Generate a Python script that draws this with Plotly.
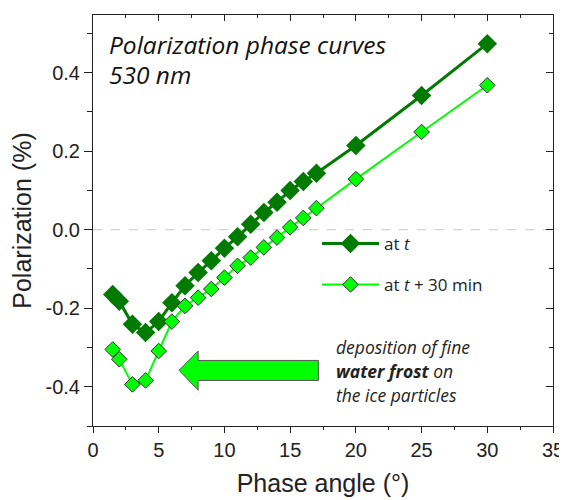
import plotly.graph_objects as go

# ---- data ----
phase_angle = [1.5, 2, 3, 4, 5, 6, 7, 8, 9, 10, 11, 12, 13, 14, 15, 16, 17, 20, 25, 30]
pol_t = [-0.165, -0.182, -0.241, -0.262, -0.234, -0.186, -0.143, -0.109, -0.079, -0.047,
         -0.018, 0.014, 0.044, 0.070, 0.100, 0.123, 0.144, 0.2145, 0.342, 0.474]
pol_t30 = [-0.305, -0.330, -0.394, -0.384, -0.309, -0.234, -0.194, -0.173, -0.151, -0.122,
           -0.092, -0.071, -0.045, -0.020, 0.006, 0.030, 0.055, 0.129, 0.249, 0.368]
series_names = ["at <i>t</i>", "at <i>t</i> + 30 min"]
x_ticks = [0, 5, 10, 15, 20, 25, 30, 35]
y_ticks = [-0.4, -0.2, 0.0, 0.2, 0.4]
y_tick_text = ["-0.4", "-0.2", "0.0", "0.2", "0.4"]
y_minor = [-0.5, -0.3, -0.1, 0.1, 0.3, 0.5]

DARK = "#007A00"
LIGHT = "#00FF00"
AXC = "#222222"

fig = go.Figure()
fig.add_trace(go.Scatter(
    x=phase_angle, y=pol_t, mode="lines+markers", name=series_names[0],
    line=dict(color=DARK, width=3),
    marker=dict(symbol="diamond", size=15, color=DARK, line=dict(width=0)),
    legendgroup="a"))
fig.add_trace(go.Scatter(
    x=phase_angle, y=pol_t30, mode="lines+markers", name=series_names[1],
    line=dict(color=LIGHT, width=2),
    marker=dict(symbol="diamond", size=12, color=LIGHT, line=dict(width=1, color="#333333")),
    legendgroup="b"))

axis_common = dict(showgrid=False, zeroline=False, showline=True, linecolor=AXC, linewidth=1,
                   mirror=True, tickcolor=AXC, automargin=False,
                   tickfont=dict(family="Liberation Sans, Arial", size=20, color=AXC),
                   title_font=dict(family="Liberation Sans, Arial", size=25, color=AXC))

fig.update_layout(
    width=559, height=492,
    margin=dict(l=85, r=14, t=7, b=74),
    plot_bgcolor="white", paper_bgcolor="white",
    xaxis=dict(range=[0, 35], tickvals=x_ticks, ticks="outside", ticklen=6,
               minor=dict(dtick=2.5, ticks="outside", ticklen=3, tickcolor=AXC),
               title=dict(text="Phase angle (°)", standoff=14), **axis_common),
    yaxis=dict(range=[-0.5, 0.547], tickvals=y_ticks, ticktext=y_tick_text, ticks="outside", ticklen=8,
               minor=dict(tickvals=y_minor, ticks="outside", ticklen=5, tickcolor=AXC),
               title=dict(text="Polarization (%)", standoff=8), **axis_common),
    xaxis2=dict(overlaying="x", side="top", range=[0, 35], tickvals=x_ticks, ticks="inside", ticklen=6,
                tickcolor=AXC, showticklabels=False, showgrid=False, zeroline=False, anchor="y",
                minor=dict(dtick=2.5, ticks="inside", ticklen=3, tickcolor=AXC)),
    yaxis2=dict(overlaying="y", side="right", range=[-0.5, 0.547], tickvals=y_ticks, ticks="inside", ticklen=7,
                tickcolor=AXC, showticklabels=False, showgrid=False, zeroline=False, anchor="x",
                minor=dict(tickvals=y_minor, ticks="inside", ticklen=4, tickcolor=AXC)),
    legend=dict(x=0.487, y=0.487, xanchor="left", yanchor="top", bgcolor="rgba(0,0,0,0)",
                traceorder="grouped", tracegroupgap=16,
                font=dict(family="Open Sans", size=17, color=AXC), itemwidth=57),
    showlegend=True,
)

# invisible trace so the mirror axes are drawn
fig.add_trace(go.Scatter(x=[None], y=[None], xaxis="x2", yaxis="y2", showlegend=False, hoverinfo="skip"))

# dashed zero line
fig.add_shape(type="line", xref="paper", x0=0, x1=1, yref="y", y0=0, y1=0,
              line=dict(color="#C8C8C8", width=1, dash="dash"), layer="below")

# arrow
fig.add_shape(type="path", xref="x", yref="y",
              path="M 6.55,-0.358 L 8.0,-0.309 L 8.0,-0.333 L 17.15,-0.333 L 17.15,-0.384 "
                   "L 8.0,-0.384 L 8.0,-0.409 Z",
              fillcolor=LIGHT, line=dict(color="#555555", width=1))

title_font = dict(family="Open Sans", size=24.5, color="#111111")
fig.add_annotation(text="<i>Polarization phase curves</i>", xref="paper", yref="paper",
                   x=(107 - 93) / 460, y=(426 - 44) / 411, xanchor="left", yanchor="middle",
                   showarrow=False, font=title_font)
fig.add_annotation(text="<i>530 nm</i>", xref="paper", yref="paper",
                   x=(107 - 93) / 460, y=(426 - 74) / 411, xanchor="left", yanchor="middle",
                   showarrow=False, font=title_font)

note_font = dict(family="Open Sans", size=17.5, color="#222222")
note_lines = ["<i>deposition of fine</i>", "<b><i>water frost</i></b><i> on</i>", "<i>the ice particles</i>"]
for i, line in enumerate(note_lines):
    fig.add_annotation(text=line, xref="paper", yref="paper",
                       x=(334 - 93) / 460, y=(426 - (347 + 24 * i)) / 411,
                       xanchor="left", yanchor="middle", showarrow=False, font=note_font)

fig.write_html("out.html")
